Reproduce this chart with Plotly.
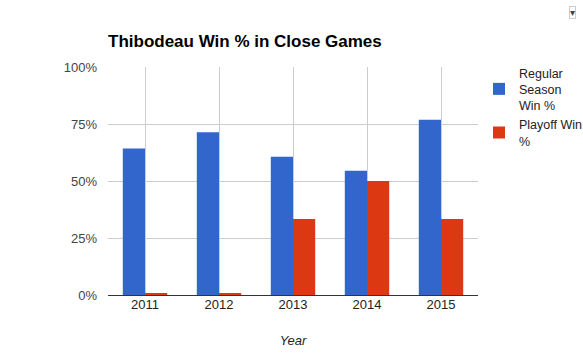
import plotly.graph_objects as go

years = ["2011", "2012", "2013", "2014", "2015"]
regular = [0.643, 0.714, 0.606, 0.545, 0.769]
playoff = [0.008, 0.008, 0.333, 0.5, 0.333]
y_ticks = [0, 0.25, 0.5, 0.75, 1.0]
y_tick_labels = ["0%", "25%", "50%", "75%", "100%"]

fig = go.Figure()
fig.add_trace(go.Bar(x=years, y=regular, name="Regular<br>Season<br>Win %",
                     marker_color="#3366cc", marker_line_width=0))
fig.add_trace(go.Bar(x=years, y=playoff, name="Playoff Win<br>%",
                     marker_color="#dc3912", marker_line_width=0))

fig.update_layout(
    width=583, height=354,
    margin=dict(l=108, r=105, t=67, b=59, autoexpand=False),
    paper_bgcolor="white", plot_bgcolor="white",
    font=dict(family="Liberation Sans, Arial, sans-serif", size=13, color="#222222"),
    title=dict(text="<b>Thibodeau Win % in Close Games</b>", x=108/583, xanchor="left",
               y=1 - 41/354, yanchor="middle",
               font=dict(size=17, color="#000000")),
    barmode="group", bargap=0.4, bargroupgap=0,
    showlegend=True,
    legend=dict(xref="container", yref="container", x=479/583, y=1 - 58/354,
                xanchor="left", yanchor="top",
                font=dict(size=12.5, color="#222222"), tracegroupgap=0,
                traceorder="normal"),
    xaxis=dict(showgrid=True, gridcolor="#cccccc", ticks="", showline=False,
               tickfont=dict(size=13, color="#222222"),
               title=dict(text="<i>Year</i>", font=dict(size=13, color="#222222"), standoff=24)),
    yaxis=dict(range=[0, 1.0], tickvals=y_ticks, ticktext=y_tick_labels,
               showgrid=True, gridcolor="#cccccc", zeroline=True, zerolinecolor="#333333",
               zerolinewidth=1, tickfont=dict(size=13, color="#444444"), ticks="",
               ticklabelstandoff=10),
)
fig.add_annotation(text="▾", x=(576 - 108)/370, y=(295 - 6)/228, xref="paper", yref="paper",
                   showarrow=False, font=dict(size=10, color="#444444"),
                   bordercolor="#cccccc", borderwidth=1, borderpad=0)
fig.write_html("out.html")
